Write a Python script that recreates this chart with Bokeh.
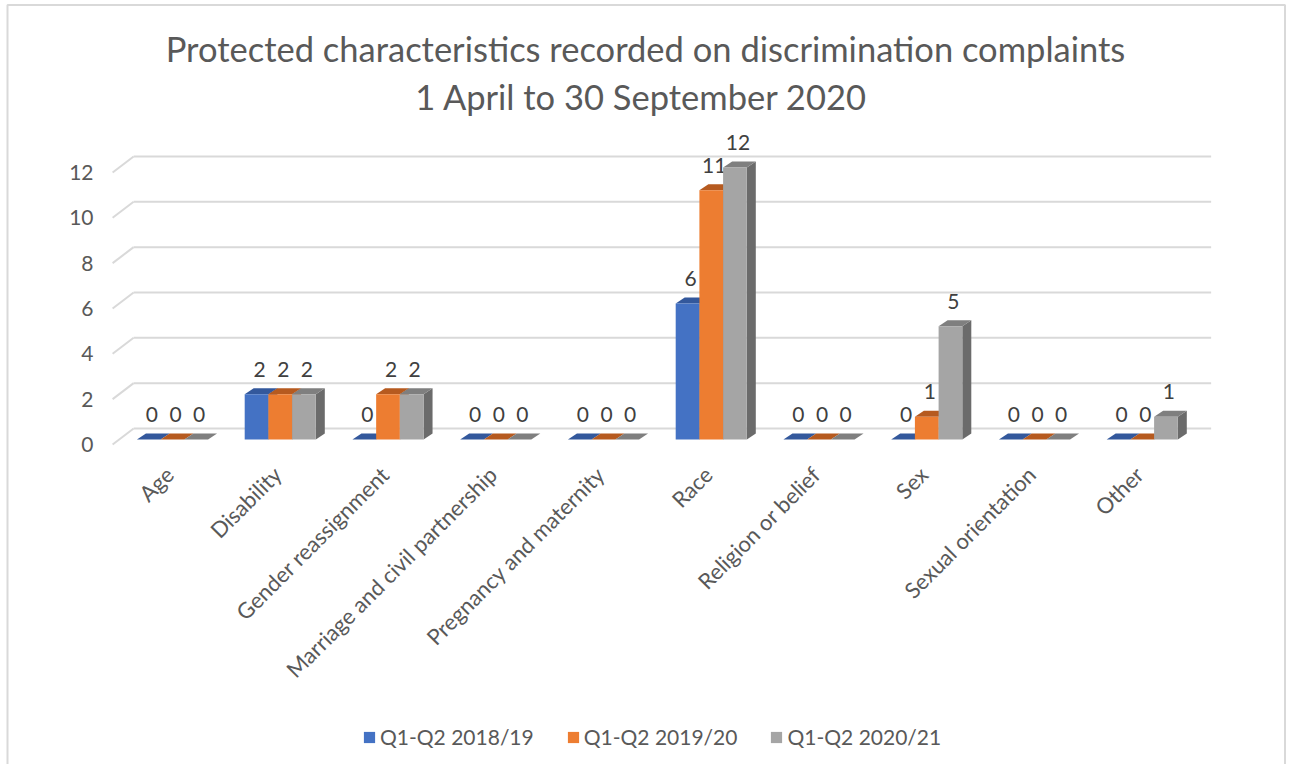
import math
from bokeh.plotting import figure
from bokeh.models import ColumnDataSource, Range1d, Legend, LegendItem
from bokeh.core.properties import value
from bokeh.embed import file_html
from bokeh.resources import INLINE

# ---- data ----
categories = ["Age", "Disability", "Gender reassignment", "Marriage and civil partnership",
              "Pregnancy and maternity", "Race", "Religion or belief", "Sex",
              "Sexual orientation", "Other"]
series_names = ["Q1-Q2 2018/19", "Q1-Q2 2019/20", "Q1-Q2 2020/21"]
q_2018_19 = [0, 2, 0, 0, 0, 6, 0, 0, 0, 0]
q_2019_20 = [0, 2, 2, 0, 0, 11, 0, 1, 0, 0]
q_2020_21 = [0, 2, 2, 0, 0, 12, 0, 5, 0, 1]
y_ticks = [0, 2, 4, 6, 8, 10, 12]

title_lines = ["Protected characteristics recorded on discrimination complaints",
               "1 April to 30 September 2020"]

front_colors = ["#4472C4", "#ED7D31", "#A5A5A5"]
top_colors = ["#33589C", "#B65A1F", "#7F7F7F"]
side_colors = ["#2F5291", "#A9521C", "#6B6B6B"]

FONT = "Lato"
TEXT_COLOR = "#595959"

# ---- canvas geometry (pixels) ----
W, H = 1290, 764
X0, DX = 172.0, 107.75      # pixel of first category centre, pixels per category
Y0, DY = 439.0, 22.67       # pixel of value 0 on the bar plane, pixels per unit


def px_x(px):
    return (px - X0) / DX


def px_y(py):
    return (Y0 - py) / DY


def ux(px):
    return px / DX


def uy(px):
    return px / DY


BAR_W = ux(23.7)                   # width of one column
DEPTH_X, DEPTH_Y = ux(9), uy(6)    # column depth
BACK_X, BACK_Y = ux(15), uy(11)    # back wall relative to bar plane
FRONT_X, FRONT_Y = ux(-6), uy(-5)  # front edge of the floor relative to bar plane

p = figure(width=W, height=H, output_backend="svg", toolbar_location=None,
           x_range=Range1d(px_x(0), px_x(W)), y_range=Range1d(px_y(H), px_y(0)),
           min_border=0, border_fill_color="white", background_fill_color="white",
           outline_line_color=None)
p.axis.visible = False
p.xgrid.visible = False
p.ygrid.visible = False

# chart border
p.quad(left=[px_x(7)], right=[px_x(1284.5)], bottom=[px_y(H + 5)], top=[px_y(4.5)],
       fill_color=None, line_color="#D9D9D9", line_width=2)

# ---- back-wall gridlines with their slanted left edge ----
x_right_back = len(categories) - 0.5 + BACK_X
grid_h = ColumnDataSource(dict(x0=[-0.5 + BACK_X] * len(y_ticks),
                               x1=[x_right_back] * len(y_ticks),
                               y=[t + BACK_Y for t in y_ticks]))
p.segment(x0="x0", y0="y", x1="x1", y1="y", source=grid_h,
          line_color="#D9D9D9", line_width=2)
grid_s = ColumnDataSource(dict(x0=[-0.5 + FRONT_X] * len(y_ticks),
                               y0=[t + FRONT_Y for t in y_ticks],
                               x1=[-0.5 + BACK_X] * len(y_ticks),
                               y1=[t + BACK_Y for t in y_ticks]))
p.segment(x0="x0", y0="y0", x1="x1", y1="y1", source=grid_s,
          line_color="#D9D9D9", line_width=2)

# y tick labels on the front plane
p.text(x=[px_x(93)] * len(y_ticks), y=[t + FRONT_Y for t in y_ticks],
       text=[str(t) for t in y_ticks], text_align="right", text_baseline="middle",
       text_font=value(FONT), text_font_size="21px", text_color=TEXT_COLOR)

# ---- 3D columns ----
all_series = [q_2018_19, q_2019_20, q_2020_21]
legend_items = []
for s, vals in enumerate(all_series):
    lefts = [i + (s - 1.5) * BAR_W for i in range(len(categories))]
    rights = [l + BAR_W for l in lefts]
    side_xs = [[r, r + DEPTH_X, r + DEPTH_X, r] for r in rights]
    side_ys = [[0, DEPTH_Y, v + DEPTH_Y, v] for v in vals]
    p.patches(xs=side_xs, ys=side_ys, fill_color=side_colors[s], line_color=None)
    top_xs = [[l, r, r + DEPTH_X, l + DEPTH_X] for l, r in zip(lefts, rights)]
    top_ys = [[v, v, v + DEPTH_Y, v + DEPTH_Y] for v in vals]
    p.patches(xs=top_xs, ys=top_ys, fill_color=top_colors[s], line_color=None)
    front = p.quad(left=lefts, right=rights, bottom=[0] * len(vals), top=vals,
                   fill_color=front_colors[s], line_color=None)
    legend_items.append(LegendItem(label=series_names[s], renderers=[front]))

    # value labels
    centers = [l + BAR_W / 2 + ux(3) for l in lefts]
    p.text(x=centers, y=[v + uy(25) for v in vals], text=[str(v) for v in vals],
           text_align="center", text_baseline="middle", text_font=value(FONT),
           text_font_size="21px", text_color="#404040")

# ---- category labels ----
p.text(x=[i + ux(-3) for i in range(len(categories))],
       y=[uy(-31)] * len(categories), text=categories,
       angle=math.pi / 4, text_align="right", text_baseline="middle",
       text_font=value(FONT), text_font_size="22px", text_color=TEXT_COLOR)

# ---- title ----
p.text(x=[px_x(645), px_x(641)], y=[px_y(48), px_y(96)], text=title_lines,
       text_align="center", text_baseline="middle", text_font=value(FONT),
       text_font_size="34.5px", text_color=TEXT_COLOR)

# ---- legend ----
legend = Legend(items=legend_items, orientation="horizontal", location=(362, 15),
                glyph_width=14, glyph_height=14, label_standoff=4, spacing=32,
                padding=0, margin=0, border_line_color=None,
                background_fill_alpha=0, label_text_font=FONT,
                label_text_font_size="21px", label_text_color=TEXT_COLOR)
p.add_layout(legend, "center")

open("out.html", "w").write(file_html(p, INLINE))
